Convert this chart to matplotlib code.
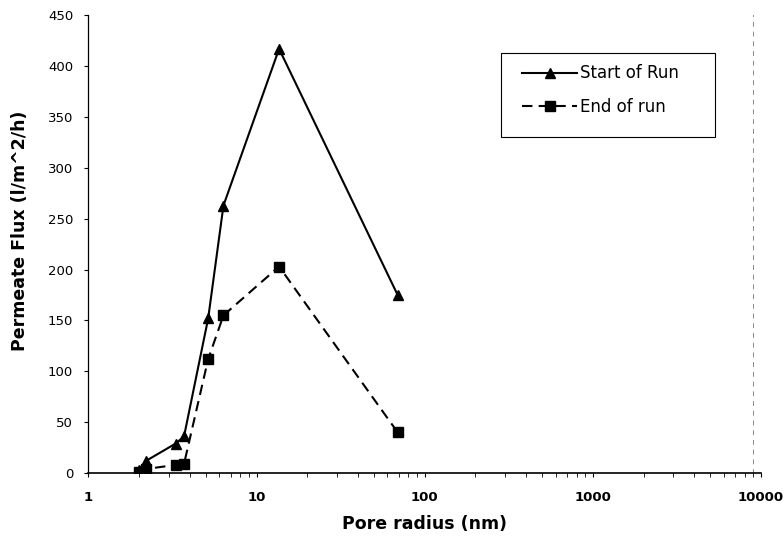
import matplotlib
matplotlib.use("Agg")
import matplotlib.pyplot as plt
from matplotlib.patches import Rectangle
from matplotlib.ticker import LogLocator, FixedLocator, FuncFormatter

plt.rcParams["font.family"] = ["DejaVu Sans"]

# data
pore_radius = [2.0, 2.2, 3.3, 3.7, 5.15, 6.35, 13.6, 69.0]
flux_start = [3, 12, 29, 36, 152, 263, 417, 175]
flux_end = [1, 4, 8, 9, 112, 155, 203, 40]

y_ticks = [0, 50, 100, 150, 200, 250, 300, 350, 400, 450]
x_ticks = [1, 10, 100, 1000, 10000]

fig = plt.figure(figsize=(7.83, 5.45), dpi=100)
ax = fig.add_axes([0.113, 0.132, 0.859, 0.840])

ax.plot(pore_radius, flux_start, color="black", lw=1.5, marker="^",
        markersize=7, label="Start of Run")
ax.plot(pore_radius, flux_end, color="black", lw=1.5, ls=(0, (5, 3)),
        marker="s", markersize=7, label="End of run")

ax.set_xscale("log")
ax.set_xlim(1, 10000)
ax.set_ylim(0, 450)
ax.xaxis.set_major_locator(FixedLocator(x_ticks))
ax.xaxis.set_minor_locator(LogLocator(base=10, subs=range(2, 10)))
ax.xaxis.set_major_formatter(FuncFormatter(lambda v, p: f"{int(v)}"))
ax.set_yticks(y_ticks)

ax.tick_params(axis="both", direction="out", labelsize=9.5, width=0.8)
for lab in ax.get_xticklabels() + ax.get_yticklabels():
    lab.set_fontweight("bold")
ax.tick_params(axis="x", which="major", length=3, pad=10)
ax.tick_params(axis="x", which="minor", length=3, width=0.6)
ax.tick_params(axis="y", length=3, pad=8)

ax.set_xlabel("Pore radius (nm)", fontsize=12.5, fontweight="bold", labelpad=8)
ax.set_ylabel("Permeate Flux (l/m^2/h)", fontsize=12.5, fontweight="bold")
ax.yaxis.set_label_coords(-0.088, 0.53)

ax.spines["left"].set_linewidth(0.9)
ax.spines["bottom"].set_linewidth(1.2)
ax.spines["right"].set_color("#888888")
ax.spines["right"].set_linestyle((0, (4, 6)))
ax.spines["right"].set_linewidth(0.7)
ax.spines["right"].set_position(("data", 9000))
ax.spines["top"].set_visible(False)

# legend entries without frame, box drawn separately (wider than tall padding)
leg = ax.legend(loc="center left", bbox_to_anchor=(0.645, 0.836),
                fontsize=12, frameon=False, handlelength=3.3,
                borderpad=0, labelspacing=0.95, handletextpad=0.15,
                borderaxespad=0)
ax.add_patch(Rectangle((0.614, 0.734), 0.318, 0.183, transform=ax.transAxes,
                       fill=False, edgecolor="black", lw=0.8, zorder=5))

fig.savefig("out.png", dpi=100)
